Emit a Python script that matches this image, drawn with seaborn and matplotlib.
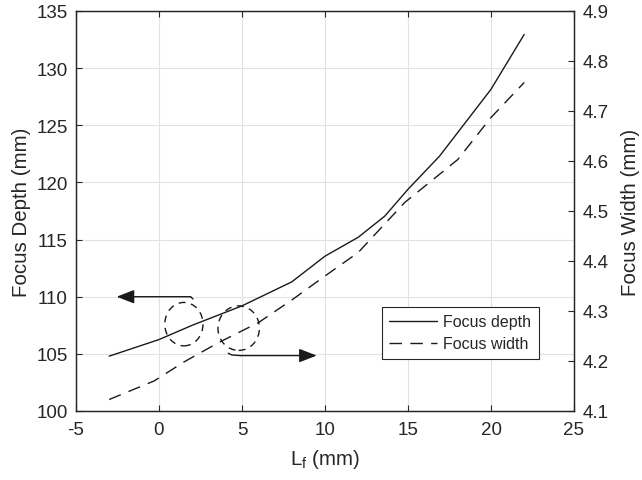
import numpy as np
import pandas as pd
import seaborn as sns
import matplotlib
matplotlib.use("Agg")
import matplotlib.pyplot as plt
from matplotlib.patches import Ellipse

# ---- data ----
lf_depth = [-3, 0, 2, 5, 8, 10, 12, 13.6, 15, 16.9, 20, 22]
focus_depth = [104.8, 106.25, 107.5, 109.2, 111.3, 113.55, 115.2, 117.05, 119.4, 122.3, 128.15, 132.95]

lf_width = [-3, -0.3, 1.5, 3.6, 6.0, 8.0, 10, 12, 14.8, 18, 20, 22]
focus_width = [4.123, 4.160, 4.198, 4.237, 4.277, 4.322, 4.370, 4.417, 4.517, 4.603, 4.687, 4.757]

x_ticks = [-5, 0, 5, 10, 15, 20, 25]
depth_ticks = [100, 105, 110, 115, 120, 125, 130, 135]
width_ticks = [4.1, 4.2, 4.3, 4.4, 4.5, 4.6, 4.7, 4.8, 4.9]

sns.set_theme(style="white")
plt.rcParams["font.family"] = ["Liberation Sans", "DejaVu Sans"]
plt.rcParams["mathtext.fontset"] = "custom"
plt.rcParams["mathtext.rm"] = "Liberation Sans"
plt.rcParams["mathtext.it"] = "Liberation Sans"

txt = "#262626"
fig = plt.figure(figsize=(6.42, 4.81), dpi=100)
ax = fig.add_axes([76 / 642, 1 - 412 / 481, 498 / 642, 400 / 481])
ax2 = ax.twinx()

df_d = pd.DataFrame({"Lf": lf_depth, "depth": focus_depth})
df_w = pd.DataFrame({"Lf": lf_width, "width": focus_width})

sns.lineplot(data=df_d, x="Lf", y="depth", ax=ax, color="#1a1a1a", linewidth=1.0, legend=False)
sns.lineplot(data=df_w, x="Lf", y="width", ax=ax2, color="#1a1a1a", linewidth=1.0, legend=False)
ln_w = ax2.lines[-1]
ln_w.set_linestyle((0, (9, 6)))
ln_d = ax.lines[-1]

ax.set_xlim(-5, 25)
ax.set_ylim(100, 135)
ax2.set_ylim(4.1, 4.9)
ax.set_xticks(x_ticks)
ax.set_yticks(depth_ticks)
ax2.set_yticks(width_ticks)
ax.set_xticklabels([str(t) for t in x_ticks])
ax.set_yticklabels([str(t) for t in depth_ticks])
ax2.set_yticklabels([f"{t:.1f}" for t in width_ticks])

ax.grid(True, color="#e2e2e2", linewidth=0.8)
ax.set_axisbelow(True)
ax2.grid(False)

for a in (ax, ax2):
    for s in a.spines.values():
        s.set_color(txt)
        s.set_linewidth(0.9)
        s.set_visible(True)

ax.tick_params(axis="x", direction="in", length=4, width=0.8, colors=txt, labelsize=13.5,
               top=True, bottom=True, pad=7)
ax.tick_params(axis="y", direction="in", length=4, width=0.8, colors=txt, labelsize=13.5,
               left=True, right=False, pad=6)
ax2.tick_params(axis="y", direction="in", length=4, width=0.8, colors=txt, labelsize=13.5,
                right=True, left=False, pad=6)

ax.set_xlabel(r"L$_{\mathregular{f}}$ (mm)", fontsize=14.8, color=txt, labelpad=7)
ax.set_ylabel("Focus Depth (mm)", fontsize=14.8, color=txt, labelpad=4)
ax2.set_ylabel("Focus Width (mm)", fontsize=14.8, color=txt, labelpad=9)

# ---- annotations: dashed circles and arrows (left-axis coordinates) ----
ec = "#1a1a1a"
ax.add_patch(Ellipse((1.5, 107.6), 2.3, 3.8, fill=False, edgecolor=ec, linewidth=1.0,
                     linestyle=(0, (5, 4)), zorder=5))
ax.add_patch(Ellipse((4.8, 107.25), 2.5, 3.9, fill=False, edgecolor=ec, linewidth=1.0,
                     linestyle=(0, (5, 4)), zorder=5))
ax.plot([2.05, 1.9], [109.8, 110.0], color=ec, linewidth=1.0, zorder=5)
ax.annotate("", xy=(-2.55, 110.0), xytext=(1.9, 110.0),
            arrowprops=dict(arrowstyle="-|>,head_length=0.9,head_width=0.35",
                            color=ec, linewidth=1.0, shrinkA=0, shrinkB=0), zorder=6)
ax.plot([4.17, 4.4, 4.9], [105.05, 104.9, 104.85], color=ec, linewidth=1.0, zorder=5)
ax.annotate("", xy=(9.5, 104.85), xytext=(4.9, 104.85),
            arrowprops=dict(arrowstyle="-|>,head_length=0.9,head_width=0.35",
                            color=ec, linewidth=1.0, shrinkA=0, shrinkB=0), zorder=6)

leg = ax2.legend([ln_d, ln_w], ["Focus depth", "Focus width"],
                 loc="upper left", bbox_to_anchor=((382 - 76) / 498, (412 - 308) / 400),
                 borderaxespad=0, fontsize=11.5, frameon=True, fancybox=False,
                 handlelength=3.0, handletextpad=0.4, borderpad=0.45, labelspacing=0.45)
leg.get_frame().set_edgecolor(txt)
leg.get_frame().set_linewidth(0.8)
leg.get_frame().set_facecolor("white")
leg.get_frame().set_alpha(1)
for t in leg.get_texts():
    t.set_color(txt)

fig.savefig("out.png", dpi=100)
